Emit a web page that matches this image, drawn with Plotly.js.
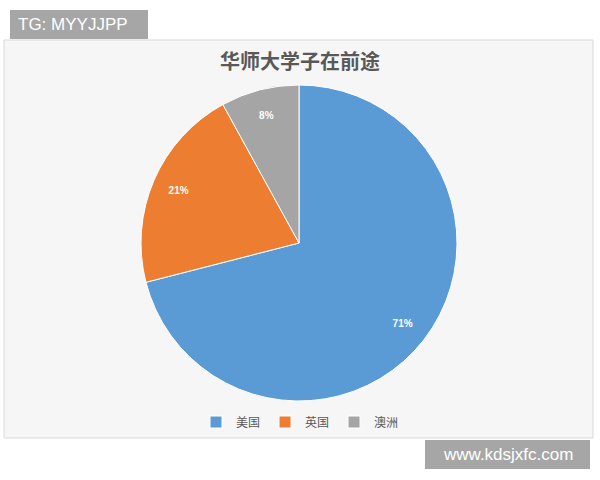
<!DOCTYPE html>
<html>
<head>
<meta charset="utf-8">
<script src="https://cdn.plot.ly/plotly-3.0.1.min.js"></script>
<style>
  html, body { margin: 0; padding: 0; background: #fff; }
  #chart { width: 600px; height: 480px; }
</style>
</head>
<body>
<div id="chart"></div>
<script>
const labels = ['美国', '英国', '澳洲'];
const shares = [71, 21, 8];
const colors = ['#5B9BD5', '#ED7D31', '#A5A5A5'];

const W = 600, H = 480;
const px = x => x / W;
const py = y => 1 - y / H;
const pieDomain = { x: [px(141), px(457)], y: [py(401), py(85)] };

// the slices themselves
const slices = {
    type: 'pie',
    labels: labels,
    values: shares,
    sort: false,
    direction: 'clockwise',
    rotation: 0,
    marker: { colors: colors, line: { color: '#fff', width: 1 } },
    textinfo: 'none',
    domain: pieDomain,
    hoverinfo: 'label+percent'
};

// transparent ring on top, only to push the % labels out toward the rim
const ringLabels = {
    type: 'pie',
    labels: labels,
    values: shares,
    sort: false,
    direction: 'clockwise',
    rotation: 0,
    hole: 0.66,
    showlegend: false,
    marker: { colors: ['rgba(0,0,0,0)', 'rgba(0,0,0,0)', 'rgba(0,0,0,0)'], line: { width: 0 } },
    texttemplate: '%{percent:.0%}',
    textposition: 'inside',
    insidetextorientation: 'horizontal',
    textfont: { family: 'Liberation Sans', size: 10, color: '#fff', weight: 'bold' },
    domain: pieDomain,
    hoverinfo: 'skip'
};

const layout = {
    width: W, height: H,
    margin: { t: 0, b: 0, l: 0, r: 0 },
    paper_bgcolor: '#fff',
    font: { family: 'Noto Sans CJK SC', color: '#595959', size: 12 },
    title: {
        text: '华师大学子在前途',
        font: { family: 'Noto Sans CJK SC', size: 20, color: '#595959', weight: 'bold' },
        x: 0.5, xanchor: 'center', xref: 'paper',
        y: py(62), yanchor: 'middle', yref: 'container'
    },
    showlegend: true,
    legend: {
        orientation: 'h', x: 0.5, xanchor: 'center', y: py(422), yanchor: 'middle',
        bgcolor: 'rgba(0,0,0,0)',
        font: { family: 'Noto Sans CJK SC', size: 12, color: '#595959' },
        itemwidth: 30, traceorder: 'normal'
    },
    shapes: [
        { type: 'rect', xref: 'paper', yref: 'paper', layer: 'below',
          x0: px(4), x1: px(593), y0: py(438), y1: py(40),
          fillcolor: '#f6f6f6', line: { color: '#d9d9d9', width: 1 } },
        { type: 'rect', xref: 'paper', yref: 'paper', layer: 'above',
          x0: px(10), x1: px(148), y0: py(39), y1: py(10),
          fillcolor: '#a6a6a6', line: { width: 0 } },
        { type: 'rect', xref: 'paper', yref: 'paper', layer: 'above',
          x0: px(425), x1: px(590), y0: py(469), y1: py(440),
          fillcolor: '#a6a6a6', line: { width: 0 } }
    ],
    annotations: [
        { text: 'TG: MYYJJPP', xref: 'paper', yref: 'paper', showarrow: false,
          x: px(16), xanchor: 'left', y: py(24.5), yanchor: 'middle',
          font: { family: 'Liberation Sans', size: 17, color: '#fff' } },
        { text: 'www.kdsjxfc.com', xref: 'paper', yref: 'paper', showarrow: false,
          x: px(507.5), xanchor: 'center', y: py(454.5), yanchor: 'middle',
          font: { family: 'Liberation Sans', size: 17, color: '#fff' } }
    ]
};

Plotly.newPlot('chart', [slices, ringLabels], layout, { displayModeBar: false, staticPlot: true });
</script>
</body>
</html>
